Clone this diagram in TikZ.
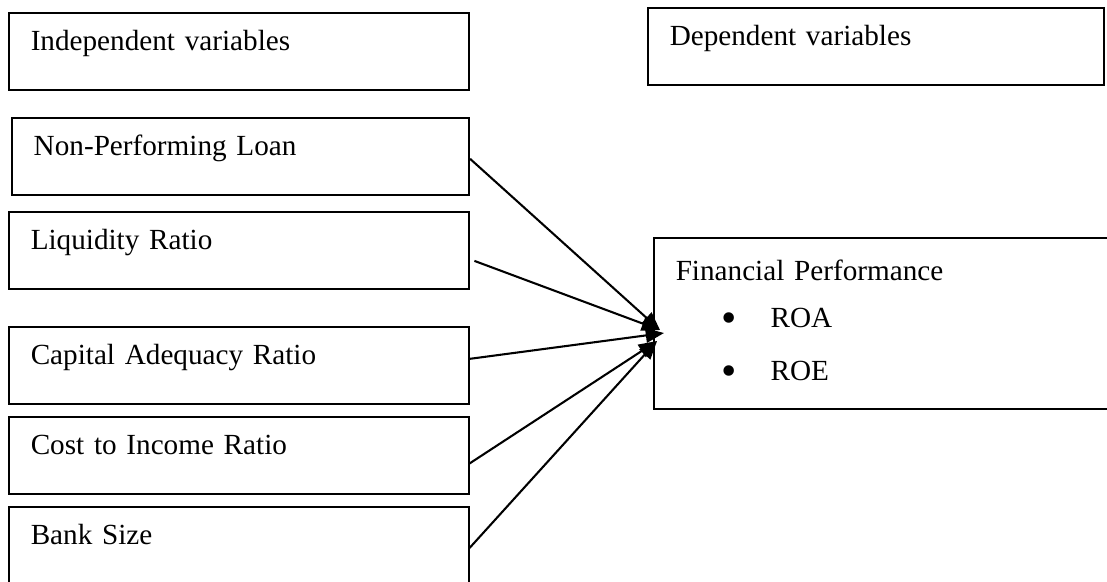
\documentclass[tikz,border=0pt]{standalone}
\usepackage{fontspec}
\setmainfont{Liberation Serif}
\usetikzlibrary{arrows.meta}

\newcommand{\bigdot}{\raisebox{-2pt}{\fontsize{18}{18}\selectfont\textbullet}}

\tikzset{
  varbox/.style={draw, line width=0.7pt, anchor=north west,
    inner xsep=9pt, inner ysep=0pt, text width=171pt, align=left,
    text height=15.3pt, text depth=16.4pt},
  link/.style={line width=0.85pt, -{Triangle[length=7.5pt, width=6pt]}}
}

\begin{document}
\begin{tikzpicture}[x=0.411pt, y=-0.411pt, font=\fontsize{12}{14.4}\selectfont]

    % --- Page size (pixels of the original figure) ---
    \useasboundingbox (0,0) rectangle (1107,581);

    % --- Headings ---
    \node[varbox] (indep) at (8,12) {Independent variables};
    \node[varbox, text width=169.5pt] (dep) at (647,7) {Dependent variables};

    % --- Independent variables ---
    \node[varbox, text width=170pt] (npl) at (11,117) {Non-Performing Loan};
    \node[varbox] (liq) at (8,211) {Liquidity Ratio};
    \node[varbox] (car) at (8,326) {Capital Adequacy Ratio};
    \node[varbox] (cir) at (8,416) {Cost to Income Ratio};
    \node[varbox, text depth=18.5pt] (size) at (8,506) {Bank Size}; % runs off the page

    % --- Dependent variable ---
    \node[varbox, text width=190pt, text height=17.7pt, text depth=52.6pt] (perf) at (653,237)
      {Financial Performance\\[4.9pt]
       \hspace*{18.9pt}\makebox[20.1pt][l]{\bigdot}ROA\\[7.4pt]
       \hspace*{18.9pt}\makebox[20.1pt][l]{\bigdot}ROE};

    % --- Arrow tips on the left side of the performance box ---
    \coordinate (tipup) at (660,330);
    \coordinate (tipmid) at (664,333);
    \coordinate (tiplow) at (657,341);

    % --- Arrows ---
    \draw[link] ([yshift=-1pt]npl.east) -- (tipup);
    \draw[link] ([xshift=2pt,yshift=-4.3pt]liq.east) -- (tipup);
    \draw[link] ([yshift=2.7pt]car.east) -- (tipmid);
    \draw[link] ([yshift=-3.3pt]cir.east) -- (tiplow);
    \draw[link] (size.east) -- (tiplow);

\end{tikzpicture}
\end{document}
